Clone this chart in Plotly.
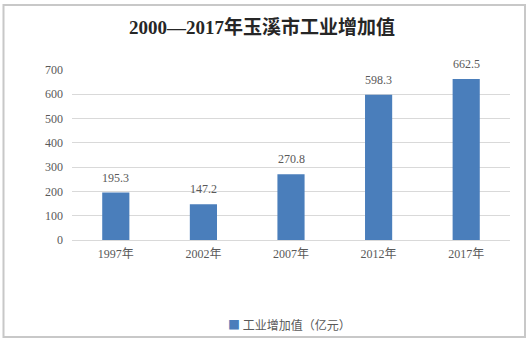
import plotly.graph_objects as go

# 玉溪市工业增加值（亿元）
years = ["1997年", "2002年", "2007年", "2012年", "2017年"]
values = [195.3, 147.2, 270.8, 598.3, 662.5]
value_labels = ["195.3", "147.2", "270.8", "598.3", "662.5"]
series_name = "工业增加值（亿元）"
title_text = "2000—2017年玉溪市工业增加值"
y_ticks = [0, 100, 200, 300, 400, 500, 600, 700]

BAR = "#4a7ebb"
GRID = "#d9d9d9"
TXT = "#595959"
SERIF = "Liberation Serif, Times New Roman, Noto Sans CJK SC, serif"
SANS = "Noto Sans CJK SC, Microsoft YaHei, sans-serif"

W, H = 529, 341
ML, MR, MT, MB = 72, 19, 70, 101
PW, PH = W - ML - MR, H - MT - MB


def px_to_paper_x(px):
    return (px - ML) / PW


def px_to_paper_y(py):
    return (H - MB - py) / PH


fig = go.Figure()
fig.add_trace(go.Bar(
    x=years, y=values, name=series_name,
    marker=dict(color=BAR, line=dict(width=0)),
    showlegend=False,
))

# value labels above each bar
for yr, v, lab in zip(years, values, value_labels):
    fig.add_annotation(
        x=yr, y=v, text=lab, showarrow=False,
        yanchor="bottom", yshift=6,
        font=dict(family=SERIF, size=12, color=TXT),
    )

# series key below the plot: colour swatch followed by the series name
fig.add_annotation(
    xref="paper", yref="paper",
    x=px_to_paper_x(226), xanchor="left",
    y=px_to_paper_y(324), yanchor="middle",
    text=f"<span style='color:{BAR}'>■</span> {series_name}",
    showarrow=False,
    font=dict(family=SANS, size=12, color=TXT),
)

# outer frame around the whole chart
fig.add_shape(
    type="rect", xref="paper", yref="paper",
    x0=px_to_paper_x(3.5), x1=px_to_paper_x(525),
    y0=px_to_paper_y(337), y1=px_to_paper_y(5),
    line=dict(color="#c8c8c8", width=2), fillcolor="rgba(0,0,0,0)",
    layer="below",
)

fig.update_layout(
    width=W, height=H,
    margin=dict(l=ML, r=MR, t=MT, b=MB, pad=0, autoexpand=False),
    paper_bgcolor="white", plot_bgcolor="white",
    bargap=0.69,
    showlegend=False,
    title=dict(
        text="<b>" + title_text + "</b>",
        x=262 / W, xanchor="center", y=1 - 27 / H, yanchor="middle",
        font=dict(family=SERIF, size=19, color="#262626"),
    ),
    xaxis=dict(
        showgrid=False, showline=True, linecolor=GRID, linewidth=1,
        ticks="", tickfont=dict(family=SERIF, size=12, color=TXT),
        ticklabelstandoff=3,
    ),
    yaxis=dict(
        range=[0, 700], tickvals=y_ticks, showgrid=True, gridcolor=GRID,
        gridwidth=1, zeroline=False, showline=False, ticks="",
        tickfont=dict(family=SERIF, size=12, color=TXT),
        ticklabelstandoff=8,
    ),
)

fig.write_html("out.html")
